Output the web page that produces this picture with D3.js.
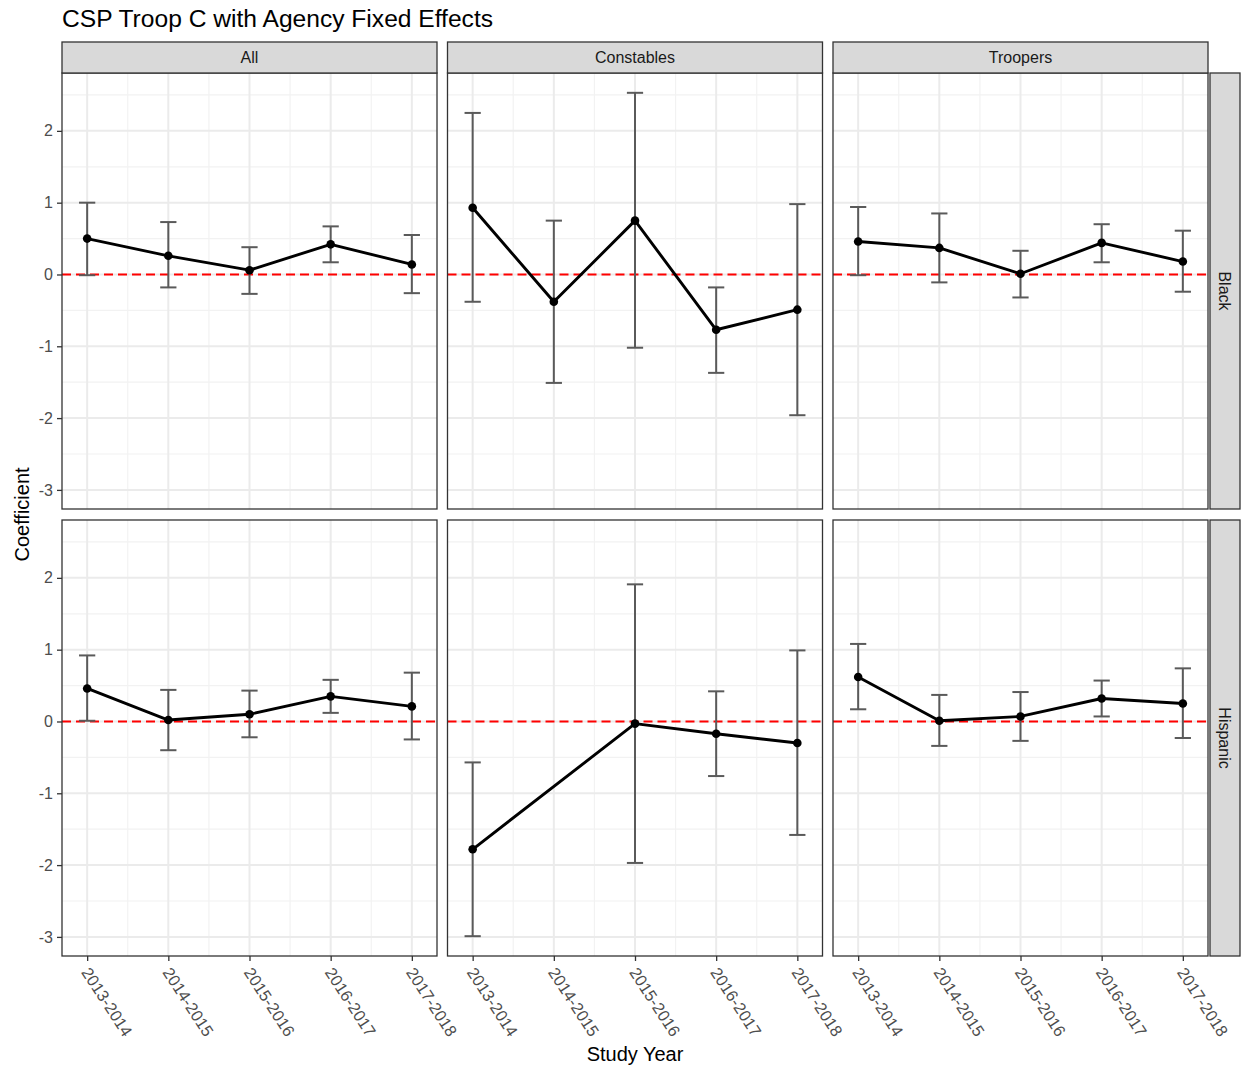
<!DOCTYPE html>
<html>
<head>
<meta charset="utf-8">
<script src="https://cdn.jsdelivr.net/npm/d3@7/dist/d3.min.js"></script>
<style>
  html, body { margin: 0; padding: 0; background: #ffffff; }
  svg { display: block; font-family: "Liberation Sans", Arial, Helvetica, sans-serif; }
</style>
</head>
<body>
<svg id="chart" width="1241" height="1068"></svg>
<script>
// Study years (x categories), facet columns and facet rows
const years = ["2013-2014", "2014-2015", "2015-2016", "2016-2017", "2017-2018"];
const groups = ["All", "Constables", "Troopers"];
const races = ["Black", "Hispanic"];
const yTicks = [-3, -2, -1, 0, 1, 2];

// Coefficient estimates and 95% interval bounds, one array per panel
const allBlackEst   = [0.50, 0.26, 0.06, 0.42, 0.14];
const allBlackLo    = [-0.01, -0.18, -0.27, 0.17, -0.26];
const allBlackHi    = [1.00, 0.73, 0.38, 0.67, 0.55];

const constBlackEst = [0.93, -0.38, 0.75, -0.77, -0.49];
const constBlackLo  = [-0.38, -1.51, -1.02, -1.37, -1.96];
const constBlackHi  = [2.25, 0.75, 2.53, -0.18, 0.98];

const troopBlackEst = [0.46, 0.37, 0.01, 0.44, 0.18];
const troopBlackLo  = [-0.01, -0.11, -0.32, 0.17, -0.24];
const troopBlackHi  = [0.94, 0.85, 0.33, 0.70, 0.61];

const allHispEst    = [0.46, 0.02, 0.10, 0.35, 0.21];
const allHispLo     = [0.01, -0.40, -0.22, 0.12, -0.25];
const allHispHi     = [0.92, 0.44, 0.43, 0.58, 0.68];

// no estimate for Constables / Hispanic in 2014-2015
const constHispEst  = [-1.78, null, -0.03, -0.17, -0.30];
const constHispLo   = [-2.99, null, -1.97, -0.76, -1.58];
const constHispHi   = [-0.57, null, 1.91, 0.42, 0.99];

const troopHispEst  = [0.62, 0.01, 0.07, 0.32, 0.25];
const troopHispLo   = [0.17, -0.34, -0.27, 0.07, -0.23];
const troopHispHi   = [1.08, 0.37, 0.41, 0.57, 0.74];

const panelSeries = {
  "Black|All":           [allBlackEst, allBlackLo, allBlackHi],
  "Black|Constables":    [constBlackEst, constBlackLo, constBlackHi],
  "Black|Troopers":      [troopBlackEst, troopBlackLo, troopBlackHi],
  "Hispanic|All":        [allHispEst, allHispLo, allHispHi],
  "Hispanic|Constables": [constHispEst, constHispLo, constHispHi],
  "Hispanic|Troopers":   [troopHispEst, troopHispLo, troopHispHi]
};

function rowsFor(key) {
  const [est, lo, hi] = panelSeries[key];
  return years.map((yr, i) => ({ i: i + 1, year: yr, est: est[i], lo: lo[i], hi: hi[i] }))
              .filter(d => d.est !== null);
}

// ---- layout ----
const svg = d3.select("#chart");
const panelW = 375, panelH = 436;
const colX = [62, 447.5, 833];
const rowY = [73, 520];
const stripH = 31, stripTop = 42;
const stripRightX = 1210, stripRightW = 30;
const capHalf = 0.1;

// shared scales: x is the year index with error-bar caps included, expanded by 5%
const xLo = 1 - capHalf, xHi = years.length + capHalf;
const xPad = (xHi - xLo) * 0.05;
const x = d3.scaleLinear().domain([xLo - xPad, xHi + xPad]).range([0, panelW]);

const allLo = d3.min(Object.values(panelSeries), s => d3.min(s[1].filter(v => v !== null)));
const allHi = d3.max(Object.values(panelSeries), s => d3.max(s[2].filter(v => v !== null)));
const yPad = (allHi - allLo) * 0.05;
const y = d3.scaleLinear().domain([allLo - yPad, allHi + yPad]).range([panelH, 0]);

const gridMajor = "#EBEBEB";
const gridMinor = "#F2F2F2";
const borderCol = "#333333";
const textGray = "#4D4D4D";

// title
svg.append("text")
  .attr("x", 62).attr("y", 27)
  .attr("font-size", 24.6).attr("fill", "#000")
  .text("CSP Troop C with Agency Fixed Effects");

races.forEach((race, r) => {
  groups.forEach((grp, c) => {
    const g = svg.append("g").attr("transform", `translate(${colX[c]},${rowY[r]})`);
    const data = rowsFor(`${race}|${grp}`);

    // panel background
    g.append("rect").attr("width", panelW).attr("height", panelH).attr("fill", "#fff");

    // minor grid
    const yMinor = d3.range(-3.5, 3, 1).filter(v => y(v) >= 0 && y(v) <= panelH);
    g.selectAll(".hminor").data(yMinor).join("line")
      .attr("x1", 0).attr("x2", panelW).attr("y1", d => y(d)).attr("y2", d => y(d))
      .attr("stroke", gridMinor).attr("stroke-width", 1.2);
    const xMinor = d3.range(1.5, years.length, 1);
    g.selectAll(".vminor").data(xMinor).join("line")
      .attr("y1", 0).attr("y2", panelH).attr("x1", d => x(d)).attr("x2", d => x(d))
      .attr("stroke", gridMinor).attr("stroke-width", 1.2);

    // major grid
    g.selectAll(".hmajor").data(yTicks).join("line")
      .attr("x1", 0).attr("x2", panelW).attr("y1", d => y(d)).attr("y2", d => y(d))
      .attr("stroke", gridMajor).attr("stroke-width", 2);
    g.selectAll(".vmajor").data(years.map((_, i) => i + 1)).join("line")
      .attr("y1", 0).attr("y2", panelH).attr("x1", d => x(d)).attr("x2", d => x(d))
      .attr("stroke", gridMajor).attr("stroke-width", 2);

    // reference line at zero
    g.append("line")
      .attr("x1", 0).attr("x2", panelW).attr("y1", y(0)).attr("y2", y(0))
      .attr("stroke", "#FF0000").attr("stroke-width", 2)
      .attr("stroke-dasharray", "9,5");

    // error bars
    const eb = g.selectAll(".eb").data(data).join("g").attr("class", "eb")
      .attr("stroke", "#5A5A5A").attr("stroke-width", 2).attr("fill", "none");
    eb.append("line").attr("x1", d => x(d.i)).attr("x2", d => x(d.i))
      .attr("y1", d => y(d.lo)).attr("y2", d => y(d.hi));
    eb.append("line").attr("x1", d => x(d.i - capHalf)).attr("x2", d => x(d.i + capHalf))
      .attr("y1", d => y(d.lo)).attr("y2", d => y(d.lo));
    eb.append("line").attr("x1", d => x(d.i - capHalf)).attr("x2", d => x(d.i + capHalf))
      .attr("y1", d => y(d.hi)).attr("y2", d => y(d.hi));

    // estimate line and points
    g.append("path").datum(data)
      .attr("fill", "none").attr("stroke", "#000").attr("stroke-width", 2.9)
      .attr("stroke-linejoin", "round")
      .attr("d", d3.line().x(d => x(d.i)).y(d => y(d.est)));
    g.selectAll(".pt").data(data).join("circle")
      .attr("cx", d => x(d.i)).attr("cy", d => y(d.est)).attr("r", 4.3).attr("fill", "#000");

    // panel border
    g.append("rect").attr("width", panelW).attr("height", panelH)
      .attr("fill", "none").attr("stroke", borderCol).attr("stroke-width", 1.3);

    // y axis on first column
    if (c === 0) {
      const ya = g.append("g").call(d3.axisLeft(y).tickValues(yTicks).tickSize(5).tickPadding(4)
        .tickFormat(v => String(v)));
      ya.select(".domain").remove();
      ya.selectAll("line").attr("stroke", borderCol).attr("stroke-width", 1.3);
      ya.selectAll("text").attr("font-size", 16).attr("fill", textGray)
        .attr("font-family", "Liberation Sans, Arial, sans-serif");
    }

    // x axis on bottom row
    if (r === races.length - 1) {
      const xa = g.append("g").attr("transform", `translate(0,${panelH})`)
        .call(d3.axisBottom(x).tickValues(years.map((_, i) => i + 1)).tickSize(5)
          .tickFormat(v => years[v - 1]));
      xa.select(".domain").remove();
      xa.selectAll("line").attr("stroke", borderCol).attr("stroke-width", 1.3);
      xa.selectAll("text")
        .attr("font-size", 16.4).attr("fill", textGray)
        .attr("font-family", "Liberation Sans, Arial, sans-serif")
        .attr("text-anchor", "start")
        .attr("x", 0).attr("y", 0).attr("dy", "0.35em")
        .attr("transform", "translate(-2,13) rotate(57)");
    }

    // top strips
    if (r === 0) {
      const s = svg.append("g").attr("transform", `translate(${colX[c]},${stripTop})`);
      s.append("rect").attr("width", panelW).attr("height", stripH)
        .attr("fill", "#D9D9D9").attr("stroke", borderCol).attr("stroke-width", 1.3);
      s.append("text").attr("x", panelW / 2).attr("y", stripH / 2).attr("dy", "0.36em")
        .attr("text-anchor", "middle").attr("font-size", 16).attr("fill", "#1A1A1A")
        .text(grp);
    }
  });

  // right strips
  const rs = svg.append("g").attr("transform", `translate(${stripRightX},${rowY[r]})`);
  rs.append("rect").attr("width", stripRightW).attr("height", panelH)
    .attr("fill", "#D9D9D9").attr("stroke", borderCol).attr("stroke-width", 1.3);
  rs.append("text")
    .attr("transform", `translate(${stripRightW / 2},${panelH / 2}) rotate(90)`)
    .attr("dy", "0.36em").attr("text-anchor", "middle")
    .attr("font-size", 16).attr("fill", "#1A1A1A").text(race);
});

// axis titles
svg.append("text")
  .attr("x", (colX[0] + colX[2] + panelW) / 2).attr("y", 1061)
  .attr("text-anchor", "middle").attr("font-size", 20).attr("fill", "#000")
  .text("Study Year");
svg.append("text")
  .attr("transform", `translate(29,${(rowY[0] + rowY[1] + panelH) / 2}) rotate(-90)`)
  .attr("text-anchor", "middle").attr("font-size", 20).attr("fill", "#000")
  .text("Coefficient");
</script>
</body>
</html>
